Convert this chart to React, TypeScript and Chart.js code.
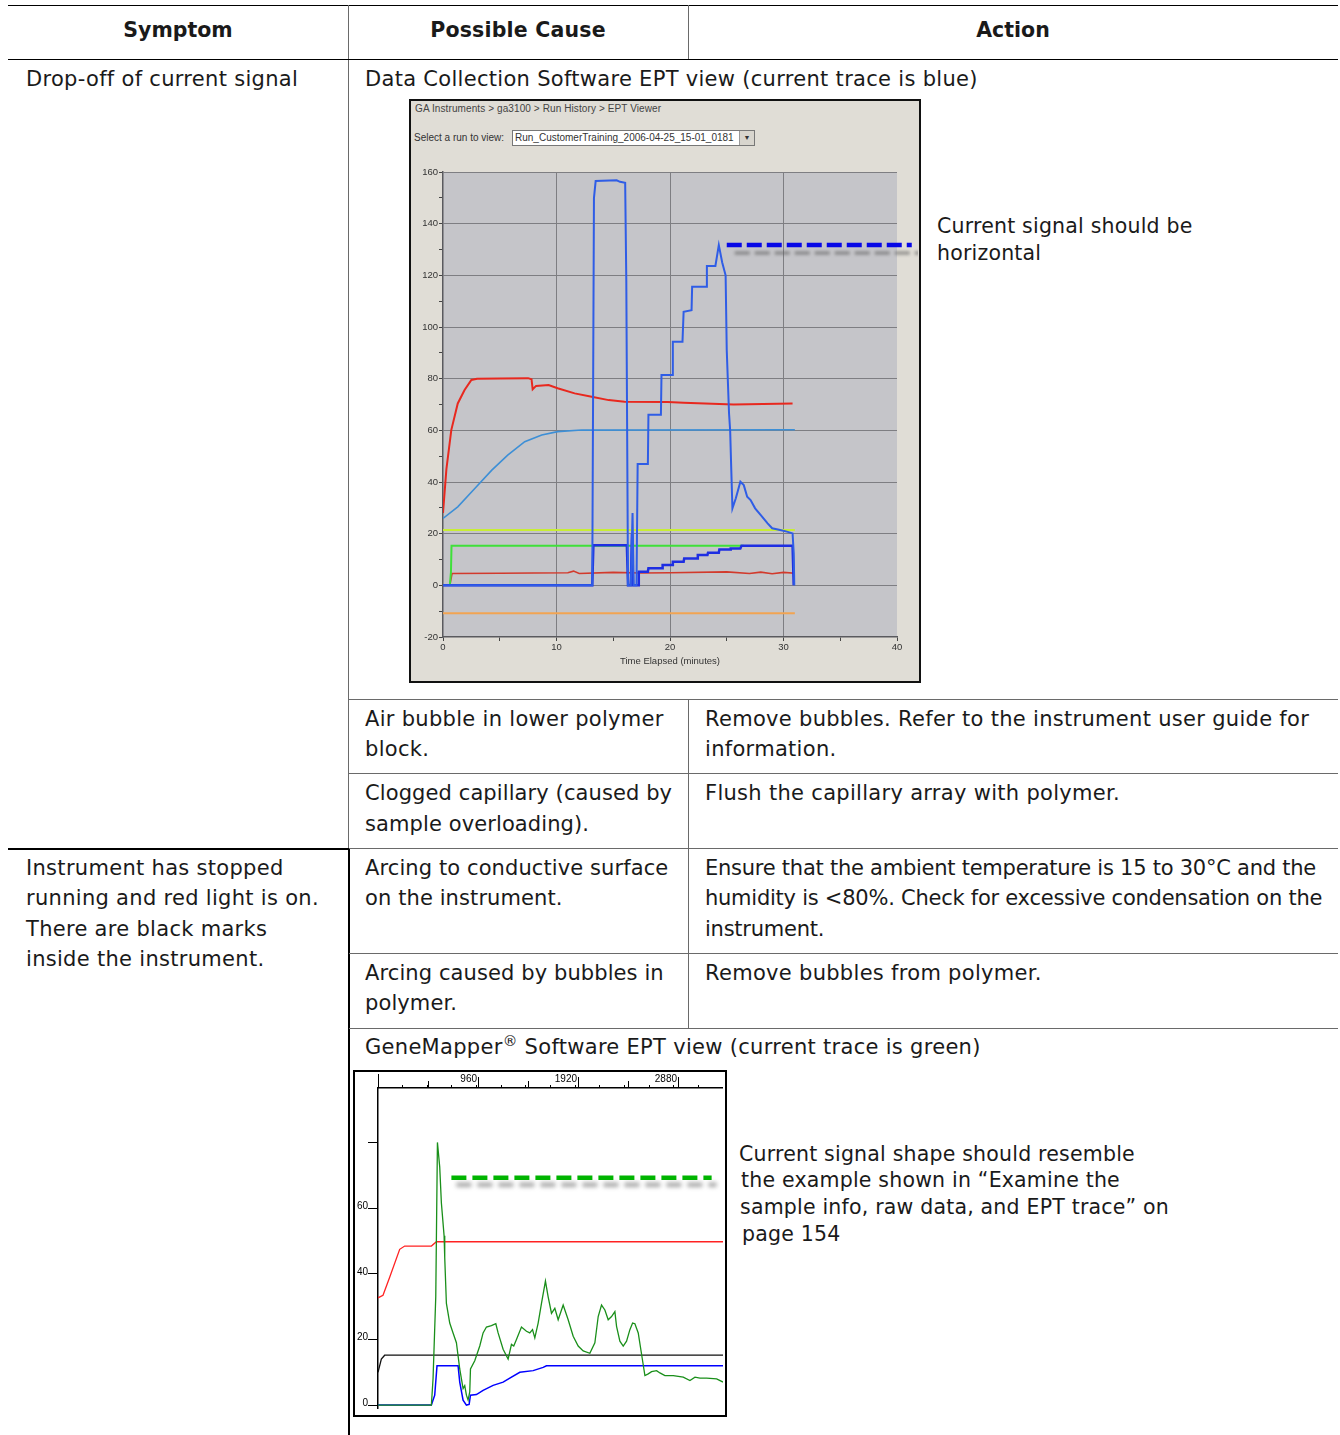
import React, { useEffect, useRef } from 'react';
import { Chart, registerables } from 'chart.js';

Chart.register(...registerables);
Chart.defaults.font.family = "'Liberation Sans', Arial, sans-serif";

// ---------- Data Collection Software EPT view (x: minutes, y: value) ----------
const eptXRange = [0, 40];
const eptYRange = [-20, 160];

const expectedCurrentLine: [number, number][] = [[25, 131.7], [41.3, 131.7]];
const expectedCurrentShadow: [number, number][] = [[25.7, 128.6], [42, 128.6]];

const currentTrace: [number, number][] = [
  [0, 0], [13.15, 0], [13.3, 150], [13.45, 156.5], [15.3, 156.8], [15.6, 156.2], [16.05, 155.8],
  [16.15, 118], [16.3, 0], [16.55, 0], [16.7, 28], [16.8, 0], [17.05, 0], [17.15, 47], [18.05, 47],
  [18.1, 66], [19.2, 66], [19.25, 81.4], [20.2, 81.4], [20.25, 94.3], [21.1, 94.3], [21.2, 105.9],
  [21.9, 106.5], [21.95, 115.6], [23.2, 115.6], [23.25, 123.6], [24.0, 123.6], [24.3, 131.7],
  [24.6, 125], [24.9, 120], [25.0, 91], [25.2, 66.7], [25.3, 60], [25.4, 44.6], [25.5, 29.8],
  [25.8, 33.7], [26.2, 40.1], [26.5, 38.8], [26.8, 34.3], [27.1, 33.0], [27.5, 29.8], [28.0, 27.2],
  [28.6, 24.0], [29.0, 22.1], [29.7, 21.4], [30.3, 20.8], [30.8, 20.1], [30.9, 12.5], [30.95, 0],
];

const voltageTrace: [number, number][] = [
  [0, 0], [13.15, 0], [13.25, 15.5], [16.2, 15.5], [16.3, 0], [16.55, 0], [16.65, 20], [16.75, 0],
  [17.2, 0], [17.25, 5.3], [18.05, 5.3], [18.1, 6.6], [19.3, 6.6], [19.35, 7.9], [20.2, 7.9],
  [20.25, 9.1], [21.2, 9.1], [21.25, 10.4], [22.4, 10.4], [22.45, 11.7], [23.3, 11.7], [23.35, 12.6],
  [24.3, 12.6], [24.35, 13.9], [25.3, 13.9], [25.35, 14.3], [26.2, 14.3], [26.3, 15.3], [30.8, 15.3],
  [30.9, 0],
];

const greenTrace: [number, number][] = [[0.6, 0], [0.7, 5], [0.75, 15.3], [26.5, 15.3]];

const maroonTrace: [number, number][] = [
  [0.6, 0], [0.8, 4.6], [5, 4.7], [11, 4.9], [11.5, 5.5], [12, 4.6], [15, 5], [17.5, 4.8], [20, 4.9],
  [25, 5.2], [27, 4.6], [28, 5.1], [29, 4.5], [30, 5], [31, 4.7],
];

const limeTrace: [number, number][] = [[0, 21.4], [31, 21.4]];
const orangeTrace: [number, number][] = [[0, -10.8], [31, -10.8]];

const skyTrace: [number, number][] = [
  [0, 25.9], [1.3, 30.4], [2.8, 37.5], [4.3, 44.6], [5.7, 50.4], [7.2, 55.6], [8.7, 58.2],
  [10.1, 59.5], [12.2, 60.1], [31, 60.2],
];

const ovenTrace: [number, number][] = [
  [0, 28], [0.3, 45], [0.73, 60.1], [1.3, 70.4], [1.9, 75.6], [2.5, 79.5], [3, 80], [5, 80.1],
  [7.5, 80.2], [7.8, 79.8], [7.9, 75.9], [8.2, 77.2], [9.3, 77.5], [10.1, 76.3], [11.6, 74.3],
  [13.1, 73.0], [14.6, 71.7], [16.0, 71.1], [19.8, 71.0], [21.2, 70.7], [25.6, 70.0], [30.8, 70.4],
];

// ---------- GeneMapper EPT view (x: scan, y: value) ----------
const gmXRange = [0, 3309];
const gmYRange = [-0.9, 96.7];
const gmLongTicks = [0, 480, 960, 1440, 1920, 2400, 2880];
const gmXLabels = [960, 1920, 2880];

const gmExpectedLine: [number, number][] = [[704, 69.3], [3200, 69.3]];
const gmExpectedShadow: [number, number][] = [[752, 67.2], [3248, 67.2]];

const gmRed: [number, number][] = [
  [0, 32.7], [48, 33.5], [112, 39.0], [208, 47.5], [256, 48.5], [512, 48.5], [560, 49.8], [3309, 49.8],
];
const gmBlack: [number, number][] = [[0, 10], [32, 14], [64, 15.2], [3309, 15.2]];
const gmBlue: [number, number][] = [
  [0, 0], [512, 0], [544, 3], [566, 12], [768, 12], [784, 7], [816, 1.5], [848, 0], [874, 0.2],
  [887, 3], [944, 3.2], [1008, 4.5], [1104, 6], [1200, 7], [1264, 8.2], [1360, 10], [1488, 10.5],
  [1584, 11.5], [1616, 12], [3309, 12],
];
const gmGreen: [number, number][] = [
  [0, 0], [512, 0], [528, 8], [554, 33], [570, 80.1], [592, 72.6], [608, 61.6], [634, 51.6],
  [640, 45], [656, 31], [688, 25], [720, 22], [752, 19], [784, 11], [816, 5], [832, 5.9], [848, 3],
  [864, 1.5], [880, 4], [887, 11], [928, 13.5], [976, 18], [1008, 22], [1040, 23.8], [1088, 24.2],
  [1130, 24.8], [1152, 22], [1200, 17], [1248, 14], [1280, 18.5], [1302, 18], [1328, 20],
  [1376, 23.8], [1424, 22.5], [1456, 22], [1482, 23], [1504, 20.5], [1536, 25], [1568, 31],
  [1606, 37.8], [1632, 33], [1664, 28], [1696, 29.5], [1728, 26], [1776, 30.5], [1824, 26],
  [1872, 21], [1920, 18], [1968, 16.5], [2032, 15.8], [2080, 19], [2112, 27], [2144, 30.5],
  [2176, 29], [2208, 26], [2240, 27], [2272, 28.5], [2288, 24], [2320, 19.5], [2352, 18],
  [2384, 19.5], [2416, 23], [2442, 25], [2464, 24.8], [2496, 22], [2528, 15.5], [2560, 9],
  [2592, 9.5], [2624, 10.2], [2672, 10.5], [2704, 9.8], [2752, 9], [2832, 9], [2928, 8.5],
  [2992, 7.5], [3040, 8.5], [3088, 8.2], [3152, 8.2], [3248, 8], [3309, 7],
];

const xy = (pts: [number, number][]) => pts.map(([x, y]) => ({ x, y }));

const plotBg = {
  id: 'plotBg',
  beforeDraw(chart: any, _a: any, opts: any) {
    if (!opts || !opts.color) return;
    const { ctx, chartArea: a } = chart;
    ctx.save();
    ctx.fillStyle = opts.color;
    ctx.fillRect(a.left, a.top, a.width, a.height);
    ctx.restore();
  },
};

const blurSet = {
  id: 'blurSet',
  beforeDatasetDraw(chart: any, args: any) {
    const ds = chart.data.datasets[args.index];
    if (ds.blur) {
      chart.ctx.save();
      chart.ctx.filter = `blur(${ds.blur}px)`;
    }
  },
  afterDatasetDraw(chart: any, args: any) {
    const ds = chart.data.datasets[args.index];
    if (ds.blur) chart.ctx.restore();
  },
};

// top-axis decorations of the GeneMapper view: longer ticks and right-aligned labels
const topAxisMarks = {
  id: 'topAxisMarks',
  afterDraw(chart: any, _a: any, opts: any) {
    if (!opts || !opts.values) return;
    const s = chart.scales.x;
    const ctx = chart.ctx;
    const top = chart.chartArea.top;
    ctx.save();
    ctx.strokeStyle = '#000';
    ctx.lineWidth = 1;
    for (const v of opts.values) {
      const px = Math.round(s.getPixelForValue(v)) + 0.5;
      const len = v === 0 ? 14 : v % 960 === 0 ? 11 : 7;
      ctx.beginPath();
      ctx.moveTo(px, top);
      ctx.lineTo(px, top - len);
      ctx.stroke();
    }
    ctx.fillStyle = '#000';
    ctx.font = "10px 'Liberation Sans', Arial, sans-serif";
    ctx.textAlign = 'right';
    ctx.textBaseline = 'alphabetic';
    for (const v of opts.labels) {
      const px = Math.round(s.getPixelForValue(v)) - 1;
      ctx.fillText(String(v), px, top - 6);
    }
    ctx.restore();
  },
};

function ChartBox({ config, width, height, style }: any) {
  const ref = useRef<HTMLCanvasElement>(null);
  useEffect(() => {
    if (!ref.current) return;
    const chart = new Chart(ref.current, config);
    return () => chart.destroy();
  }, []);
  return (
    <div style={{ position: 'absolute', width, height, ...style }}>
      <canvas ref={ref} width={width} height={height} style={{ width, height, display: 'block' }} />
    </div>
  );
}

const line = (label: string, pts: [number, number][], color: string, width: number, extra: any = {}) => ({
  label,
  data: xy(pts),
  borderColor: color,
  borderWidth: width,
  pointRadius: 0,
  tension: 0,
  fill: false,
  ...extra,
});

const eptConfig: any = {
  type: 'line',
  data: {
    datasets: [
      line('Expected current', expectedCurrentLine, '#0707e6', 4.5, { borderDash: [15, 5], clip: false }),
      line('Current', currentTrace, '#2f5de6', 2),
      line('Voltage', voltageTrace, '#1e2ee2', 2.5),
      line('Power', greenTrace, '#3fe03a', 2),
      line('Laser', maroonTrace, '#d23a2c', 1.6),
      line('Oven', ovenTrace, '#e8281e', 2),
      line('Temp', skyTrace, '#3d8fd6', 1.6),
      line('Lime', limeTrace, '#c8ee34', 2),
      line('Orange', orangeTrace, '#f2a452', 2),
      line('Shadow', expectedCurrentShadow, 'rgba(95,95,95,0.5)', 4, { borderDash: [15, 5], clip: false, blur: 1.8 }),
    ],
  },
  options: {
    animation: false,
    responsive: false,
    maintainAspectRatio: false,
    events: [],
    layout: { padding: { top: 12, right: 21, left: 0, bottom: 13 } },
    plugins: { legend: { display: false }, tooltip: { enabled: false }, plotBg: { color: '#c5c5c9' } },
    scales: {
      x: {
        type: 'linear',
        min: eptXRange[0],
        max: eptXRange[1],
        ticks: {
          stepSize: 5,
          autoSkip: false,
          maxRotation: 0,
          includeBounds: false,
          callback: (v: number) => (v % 10 === 0 ? String(v) : ''),
          font: { size: 9.5 },
          color: '#333',
          padding: 1,
        },
        grid: {
          color: (c: any) => (c.tick && c.tick.value % 10 === 0 && c.tick.value > 0 && c.tick.value < 40 ? '#7e7e82' : 'rgba(0,0,0,0)'),
          tickColor: '#444',
          tickLength: 4,
        },
        border: { color: '#5a5a5e', width: 1.5 },
        title: { display: true, text: 'Time Elapsed (minutes)', font: { size: 9.5 }, color: '#333', padding: { top: 0, bottom: 0 } },
        afterFit: (s: any) => { s.height = 30; },
      },
      y: {
        type: 'linear',
        min: eptYRange[0],
        max: eptYRange[1],
        ticks: {
          stepSize: 10,
          autoSkip: false,
          includeBounds: false,
          callback: (v: number) => (v % 20 === 0 ? String(v) : ''),
          font: { size: 9.5 },
          color: '#333',
          padding: 1,
        },
        grid: {
          color: (c: any) => (c.tick && c.tick.value % 20 === 0 && c.tick.value > -20 ? '#7e7e82' : 'rgba(0,0,0,0)'),
          tickColor: '#444',
          tickLength: 4,
        },
        border: { color: '#5a5a5e', width: 1.5 },
        afterFit: (s: any) => { s.width = 33; },
      },
    },
  },
  plugins: [plotBg, blurSet],
};

const gmConfig: any = {
  type: 'line',
  data: {
    datasets: [
      line('Expected current', gmExpectedLine, '#00b400', 4.5, { borderDash: [15, 6] }),
      line('Current', gmGreen, '#1a8f1a', 1.3),
      line('Voltage', gmRed, '#ff2222', 1.3),
      line('Power', gmBlue, '#0000ff', 1.5),
      line('Temperature', gmBlack, '#111', 1.3),
      line('Shadow', gmExpectedShadow, 'rgba(80,80,80,0.5)', 4.5, { borderDash: [15, 6], blur: 2 }),
    ],
  },
  options: {
    animation: false,
    responsive: false,
    maintainAspectRatio: false,
    events: [],
    layout: { padding: 0 },
    plugins: {
      legend: { display: false },
      tooltip: { enabled: false },
      plotBg: { color: '#ffffff' },
      topAxisMarks: { values: gmLongTicks, labels: gmXLabels },
    },
    scales: {
      x: {
        type: 'linear',
        position: 'top',
        min: gmXRange[0],
        max: gmXRange[1],
        ticks: {
          stepSize: 240,
          autoSkip: false,
          maxRotation: 0,
          includeBounds: false,
          callback: () => '',
          font: { size: 10 },
          color: '#000',
          padding: 0,
        },
        grid: { drawOnChartArea: false, tickLength: 3, color: '#000' },
        border: { color: '#000', width: 1.5 },
        afterFit: (s: any) => { s.height = 16; },
      },
      y: {
        type: 'linear',
        min: gmYRange[0],
        max: gmYRange[1],
        ticks: {
          stepSize: 20,
          autoSkip: false,
          includeBounds: false,
          callback: (v: number) => (v === 80 ? '' : String(v)),
          font: { size: 10 },
          color: '#000',
          padding: 0,
          labelOffset: -2,
        },
        grid: { drawOnChartArea: false, tickLength: 10, color: '#000' },
        border: { color: '#000', width: 1.5 },
        afterFit: (s: any) => { s.width = 23; },
      },
    },
  },
  plugins: [plotBg, blurSet, topAxisMarks],
};

const FONT = "'DejaVu Sans', sans-serif";
const TEXT = '#1a1a1a';

function T({ x, y, lines, lh = 30, size = 21, bold = false, center = false, w, ls = 0.3, indents }: any) {
  return (
    <div
      style={{
        position: 'absolute',
        left: x,
        top: y - lh / 2,
        width: w,
        lineHeight: `${lh}px`,
        fontSize: size,
        fontFamily: FONT,
        fontWeight: bold ? 700 : 400,
        color: TEXT,
        whiteSpace: 'nowrap',
        textAlign: center ? 'center' : 'left',
        letterSpacing: ls,
      }}
    >
      {lines.map((l: any, i: number) => (
        <div key={i} style={{ paddingLeft: indents ? indents[i] : 0 }}>{l}</div>
      ))}
    </div>
  );
}

function L({ x, y, w, h, c }: any) {
  return <div style={{ position: 'absolute', left: x, top: y, width: w, height: h, background: c }} />;
}

const small = "'Liberation Sans', Arial, sans-serif";

export default function App() {
  const gray = '#6a6a6a';
  return (
    <div style={{ position: 'absolute', left: 0, top: 0, width: 1340, height: 1435, background: '#fff', overflow: 'hidden' }}>
      {/* table rules */}
      <L x={8} y={5} w={1330} h={1} c="#000" />
      <L x={8} y={59} w={1330} h={1} c="#000" />
      <L x={348} y={5} w={1} h={54} c={gray} />
      <L x={688} y={5} w={1} h={54} c={gray} />
      <L x={348} y={60} w={1} h={789} c={gray} />
      <L x={348} y={848} w={2} h={587} c="#000" />
      <L x={349} y={699} w={989} h={1} c={gray} />
      <L x={349} y={773} w={989} h={1} c={gray} />
      <L x={8} y={848} w={341} h={2} c="#000" />
      <L x={349} y={848} w={989} h={1} c={gray} />
      <L x={349} y={953} w={989} h={1} c={gray} />
      <L x={349} y={1028} w={989} h={1} c={gray} />
      <L x={688} y={699} w={1} h={329} c={gray} />

      {/* header */}
      <T x={8} w={340} y={30} lines={['Symptom']} bold center size={20.5} ls={0} />
      <T x={348} w={340} y={30} lines={['Possible Cause']} bold center size={20.5} ls={0.2} />
      <T x={688} w={650} y={30} lines={['Action']} bold center size={20.5} ls={0} />

      {/* row 1 */}
      <T x={26} y={79} lines={['Drop-off of current signal']} />
      <T x={365} y={79} lines={['Data Collection Software EPT view (current trace is blue)']} />
      <T x={937} y={226} lh={27} size={20.5} ls={0.2} lines={['Current signal should be', 'horizontal']} />

      <T x={365} y={719} lines={['Air bubble in lower polymer', 'block.']} />
      <T x={705} y={719} lines={['Remove bubbles. Refer to the instrument user guide for', 'information.']} />
      <T x={365} y={793} lh={31} ls={0.1} lines={['Clogged capillary (caused by', 'sample overloading).']} />
      <T x={705} y={793} lines={['Flush the capillary array with polymer.']} />

      {/* row 2 */}
      <T x={26} y={868} lh={30.5} lines={['Instrument has stopped', 'running and red light is on.', 'There are black marks', 'inside the instrument.']} />
      <T x={365} y={868} lh={30.5} ls={0.1} lines={['Arcing to conductive surface', 'on the instrument.']} />
      <T x={705} y={868} lh={30.5} ls={-0.25} lines={['Ensure that the ambient temperature is 15 to 30°C and the', 'humidity is <80%. Check for excessive condensation on the', 'instrument.']} />
      <T x={365} y={973} lh={30.5} ls={0.1} lines={['Arcing caused by bubbles in', 'polymer.']} />
      <T x={705} y={973} lines={['Remove bubbles from polymer.']} />
      <T
        x={365}
        y={1047}
        lines={[
          <span>
            GeneMapper<sup style={{ fontSize: '0.7em', lineHeight: 0, verticalAlign: '0.55em' }}>®</sup> Software EPT view (current trace is green)
          </span>,
        ]}
      />
      <T
        x={739}
        y={1154}
        lh={26.7}
        size={20.5}
        ls={0.2}
        indents={[0, 2, 1, 3]}
        lines={['Current signal shape should resemble', 'the example shown in \u201cExamine the', 'sample info, raw data, and EPT trace\u201d on', 'page 154']}
      />

      {/* Data Collection EPT screenshot */}
      <div style={{ position: 'absolute', left: 409, top: 99, width: 508, height: 580, background: '#e0ddd6', border: '2px solid #111' }}>
        <div style={{ position: 'absolute', left: 4, top: 2, fontSize: 10, fontFamily: small, color: '#444', letterSpacing: 0.1 }}>
          GA Instruments &gt; ga3100 &gt; Run History &gt; EPT Viewer
        </div>
        <div style={{ position: 'absolute', left: 3, top: 31, fontSize: 10, fontFamily: small, color: '#333' }}>
          Select a run to view:
        </div>
        <div
          style={{
            position: 'absolute', left: 101, top: 29, width: 243, height: 16, background: '#fff', border: '1px solid #777',
            fontSize: 10, fontFamily: small, color: '#333', lineHeight: '14px', paddingLeft: 2, boxSizing: 'border-box',
          }}
        >
          Run_CustomerTraining_2006-04-25_15-01_0181
          <div style={{ position: 'absolute', right: 0, top: 0, width: 14, height: 14, background: '#d8d5ce', borderLeft: '1px solid #999', fontSize: 7, textAlign: 'center', lineHeight: '14px' }}>▼</div>
        </div>
      </div>
      <ChartBox config={eptConfig} width={508} height={520} style={{ left: 410, top: 160 }} />

      {/* GeneMapper EPT screenshot */}
      <div style={{ position: 'absolute', left: 353, top: 1070, width: 370, height: 343, border: '2px solid #000', background: '#fff' }} />
      <ChartBox config={gmConfig} width={368} height={342} style={{ left: 355, top: 1072 }} />
    </div>
  );
}
